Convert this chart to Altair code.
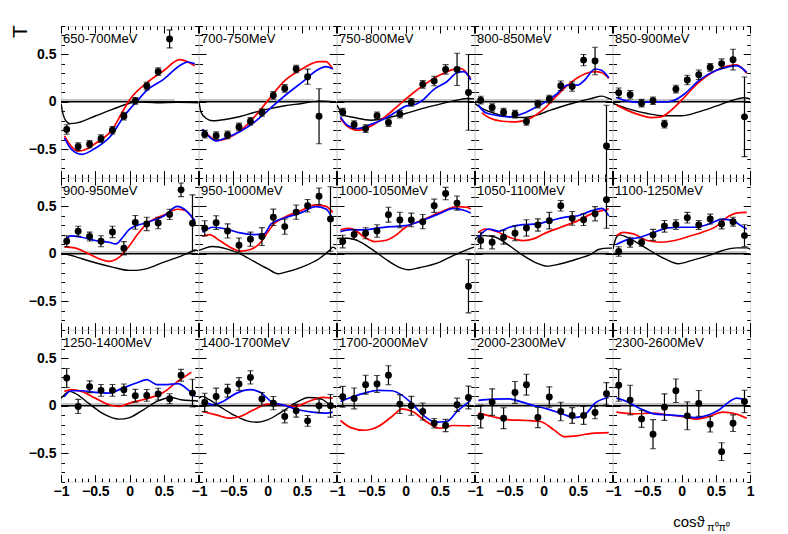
import altair as alt
import pandas as pd

# ---------------- data ----------------
XC = [-0.9167, -0.75, -0.5833, -0.4167, -0.25, -0.0833, 0.0833, 0.25, 0.4167, 0.5833, 0.75, 0.9167]

labels = ["650-700MeV", "700-750MeV", "750-800MeV", "800-850MeV", "850-900MeV",
          "900-950MeV", "950-1000MeV", "1000-1050MeV", "1050-1100MeV", "1100-1250MeV",
          "1250-1400MeV", "1400-1700MeV", "1700-2000MeV", "2000-2300MeV", "2300-2600MeV"]

T_vals = [
    [-0.293, -0.473, -0.448, -0.389, -0.30, -0.152, 0.01, 0.166, 0.318, 0.664],
    [-0.342, -0.357, -0.35, -0.265, -0.205, -0.113, 0.067, 0.141, 0.346, 0.265, -0.152],
    [-0.109, -0.24, -0.283, -0.148, -0.219, -0.131, -0.007, 0.184, 0.219, 0.342, 0.342, 0.099],
    [0.018, -0.06, -0.109, -0.13, -0.208, -0.024, 0.029, 0.169, 0.162, 0.44, 0.43, -0.466],
    [0.095, 0.074, -0.014, 0.011, -0.236, 0.134, 0.23, 0.286, 0.364, 0.403, 0.445, -0.159],
    [0.133, 0.238, 0.182, 0.133, 0.231, 0.059, 0.332, 0.315, 0.325, 0.416, 0.675, 0.322],
    [0.269, 0.329, 0.241, 0.091, 0.154, 0.182, 0.385, 0.287, 0.44, 0.507, 0.608, 0.367],
    [0.129, 0.203, 0.217, 0.241, 0.413, 0.357, 0.357, 0.339, 0.507, 0.636, 0.535, -0.343],
    [0.14, 0.122, 0.175, 0.217, 0.273, 0.304, 0.35, 0.507, 0.374, 0.36, 0.423, 0.57],
    [0.024, 0.122, 0.119, 0.2, 0.29, 0.308, 0.381, 0.304, 0.367, 0.315, 0.339, 0.192],
    [0.293, -0.007, 0.201, 0.163, 0.163, 0.17, 0.106, 0.11, 0.124, 0.074, 0.322, 0.134],
    [0.035, 0.099, 0.159, 0.23, 0.3, 0.071, 0.028, -0.113, -0.053, -0.159, 0.0, 0.0],
    [0.095, 0.078, 0.223, 0.23, 0.322, 0.018, 0.0, -0.06, -0.184, -0.208, 0.011, 0.088],
    [-0.113, 0.039, -0.131, 0.141, 0.223, -0.124, 0.092, -0.06, -0.102, -0.102, -0.071, 0.127],
    [0.216, 0.06, -0.138, -0.3, -0.014, 0.159, -0.106, 0.025, -0.194, -0.484, -0.184, 0.046],
]

T_errs = [
    [0.05, 0.04, 0.04, 0.04, 0.04, 0.04, 0.035, 0.04, 0.04, 0.095],
    [0.04, 0.04, 0.04, 0.04, 0.04, 0.04, 0.04, 0.04, 0.04, 0.08, 0.29],
    [0.04, 0.04, 0.04, 0.04, 0.04, 0.04, 0.04, 0.04, 0.05, 0.05, 0.17, 0.4],
    [0.04, 0.04, 0.04, 0.04, 0.04, 0.04, 0.04, 0.05, 0.05, 0.06, 0.145, 0.43],
    [0.05, 0.045, 0.04, 0.04, 0.04, 0.04, 0.05, 0.05, 0.04, 0.05, 0.11, 0.42],
    [0.058, 0.052, 0.047, 0.058, 0.06, 0.07, 0.073, 0.07, 0.06, 0.054, 0.072, 0.3],
    [0.08, 0.073, 0.075, 0.075, 0.075, 0.094, 0.087, 0.08, 0.075, 0.066, 0.087, 0.34],
    [0.066, 0.052, 0.058, 0.066, 0.079, 0.082, 0.072, 0.075, 0.07, 0.065, 0.075, 0.28],
    [0.087, 0.07, 0.073, 0.079, 0.086, 0.065, 0.087, 0.056, 0.072, 0.061, 0.075, 0.3],
    [0.05, 0.052, 0.04, 0.058, 0.061, 0.052, 0.056, 0.047, 0.052, 0.052, 0.047, 0.115],
    [0.1, 0.075, 0.062, 0.062, 0.062, 0.06, 0.067, 0.062, 0.062, 0.053, 0.062, 0.147],
    [0.097, 0.088, 0.067, 0.067, 0.07, 0.07, 0.07, 0.067, 0.067, 0.057, 0.07, 0.12],
    [0.11, 0.11, 0.1, 0.09, 0.1, 0.1, 0.1, 0.09, 0.05, 0.065, 0.07, 0.12],
    [0.12, 0.14, 0.11, 0.115, 0.11, 0.106, 0.108, 0.097, 0.083, 0.094, 0.065, 0.118],
    [0.168, 0.157, 0.09, 0.154, 0.14, 0.124, 0.147, 0.136, 0.083, 0.094, 0.088, 0.118],
]

red_x = [
    [-0.95, -0.85, -0.75, -0.6, -0.5, -0.25, -0.1, 0.0, 0.25, 0.5, 0.73, 0.85, 0.95],
    [-0.95, -0.85, -0.75, -0.6, -0.4, -0.2, 0.0, 0.25, 0.5, 0.75, 0.85, 0.95],
    [-0.95, -0.85, -0.7, -0.5, -0.3, -0.1, 0.1, 0.3, 0.5, 0.7, 0.8, 0.95],
    [-0.9, -0.8, -0.6, -0.4, -0.2, 0.0, 0.2, 0.4, 0.6, 0.75, 0.85, 0.95],
    [-0.95, -0.8, -0.6, -0.45, -0.3, -0.15, 0.0, 0.25, 0.5, 0.7, 0.8, 0.95],
    [-0.95, -0.8, -0.6, -0.4, -0.3, -0.15, 0.0, 0.1, 0.25, 0.5, 0.7, 0.8, 0.95],
    [-0.95, -0.85, -0.7, -0.5, -0.4, -0.25, -0.1, 0.0, 0.1, 0.25, 0.5, 0.7, 0.85, 0.95],
    [-0.95, -0.85, -0.75, -0.6, -0.45, -0.3, -0.15, 0.0, 0.25, 0.5, 0.75, 0.9, 0.95],
    [-0.95, -0.85, -0.7, -0.5, -0.3, -0.15, 0.0, 0.25, 0.5, 0.75, 0.95],
    [-0.95, -0.85, -0.7, -0.5, -0.3, -0.1, 0.1, 0.3, 0.5, 0.7, 0.8, 0.95],
    [-0.95, -0.85, -0.7, -0.5, -0.3, -0.15, 0.0, 0.25, 0.5, 0.7, 0.85, 0.9],
    [-0.95, -0.75, -0.55, -0.4, -0.2, 0.0, 0.2, 0.4, 0.6, 0.8, 0.95],
    [-0.95, -0.8, -0.6, -0.4, -0.2, -0.05, 0.1, 0.3, 0.5, 0.7, 0.95],
    [-0.95, -0.75, -0.5, -0.25, -0.05, 0.15, 0.3, 0.5, 0.7, 0.95],
    [-0.95, -0.7, -0.45, -0.2, 0.0, 0.2, 0.4, 0.6, 0.8, 0.95],
]
red_y = [
    [-0.36, -0.47, -0.52, -0.49, -0.44, -0.29, -0.1, 0.02, 0.2, 0.33, 0.445, 0.42, 0.38],
    [-0.29, -0.36, -0.41, -0.39, -0.307, -0.166, 0.01, 0.223, 0.346, 0.424, 0.424, 0.346],
    [-0.177, -0.258, -0.3, -0.254, -0.159, -0.035, 0.088, 0.194, 0.283, 0.343, 0.353, 0.247],
    [-0.117, -0.166, -0.205, -0.212, -0.177, -0.078, 0.07, 0.205, 0.293, 0.318, 0.307, 0.247],
    [-0.035, -0.088, -0.141, -0.166, -0.159, -0.088, 0.018, 0.205, 0.33, 0.382, 0.389, 0.3],
    [0.073, 0.063, 0.0, -0.063, -0.08, -0.035, 0.087, 0.19, 0.315, 0.41, 0.47, 0.46, 0.35],
    [0.185, 0.203, 0.14, 0.052, 0.028, 0.045, 0.122, 0.227, 0.32, 0.385, 0.46, 0.517, 0.5, 0.437],
    [0.252, 0.269, 0.255, 0.175, 0.129, 0.14, 0.192, 0.28, 0.357, 0.437, 0.497, 0.49, 0.472],
    [0.227, 0.262, 0.238, 0.175, 0.14, 0.157, 0.21, 0.28, 0.35, 0.437, 0.472],
    [0.192, 0.227, 0.21, 0.14, 0.122, 0.14, 0.182, 0.227, 0.287, 0.402, 0.43, 0.437],
    [0.152, 0.17, 0.152, 0.081, 0.011, -0.007, 0.028, 0.074, 0.145, 0.258, 0.329, 0.353],
    [-0.06, -0.095, -0.131, -0.113, -0.042, 0.018, 0.011, -0.007, 0.046, 0.088, 0.081],
    [-0.155, -0.23, -0.258, -0.219, -0.113, -0.032, -0.06, -0.166, -0.237, -0.208, -0.212],
    [-0.078, -0.113, -0.148, -0.155, -0.166, -0.254, -0.325, -0.314, -0.29, -0.283],
    [-0.067, -0.085, -0.078, -0.095, -0.113, -0.141, -0.113, -0.067, -0.088, -0.131],
]

blue_x = [
    [-0.95, -0.85, -0.7, -0.5, -0.25, -0.1, 0.0, 0.1, 0.25, 0.5, 0.75, 0.85, 0.95],
    [-0.95, -0.85, -0.75, -0.6, -0.4, -0.2, 0.0, 0.25, 0.5, 0.75, 0.85, 0.95],
    [-0.95, -0.85, -0.7, -0.5, -0.3, -0.1, 0.0, 0.15, 0.25, 0.4, 0.6, 0.75, 0.85, 0.95],
    [-0.95, -0.85, -0.7, -0.5, -0.3, -0.1, 0.05, 0.2, 0.35, 0.5, 0.6, 0.75, 0.85, 0.95],
    [-0.95, -0.8, -0.6, -0.4, -0.2, -0.1, 0.05, 0.25, 0.5, 0.65, 0.8, 0.95],
    [-0.95, -0.85, -0.7, -0.5, -0.3, -0.2, -0.1, 0.0, 0.25, 0.5, 0.7, 0.8, 0.95],
    [-0.95, -0.8, -0.6, -0.4, -0.2, -0.05, 0.05, 0.25, 0.5, 0.7, 0.85, 0.95],
    [-0.95, -0.8, -0.6, -0.4, -0.2, 0.0, 0.1, 0.3, 0.5, 0.7, 0.85, 0.95],
    [-0.95, -0.8, -0.65, -0.5, -0.3, -0.1, 0.1, 0.3, 0.5, 0.7, 0.85, 0.95],
    [-0.95, -0.8, -0.6, -0.4, -0.2, 0.0, 0.2, 0.4, 0.6, 0.75, 0.9, 0.95],
    [-0.95, -0.85, -0.7, -0.5, -0.3, -0.1, 0.1, 0.25, 0.4, 0.55, 0.7, 0.85, 0.95],
    [-0.95, -0.8, -0.65, -0.45, -0.25, -0.1, 0.05, 0.25, 0.45, 0.65, 0.85, 0.95],
    [-0.95, -0.8, -0.6, -0.4, -0.2, -0.05, 0.1, 0.25, 0.45, 0.6, 0.75, 0.95],
    [-0.95, -0.75, -0.5, -0.35, -0.15, 0.05, 0.25, 0.45, 0.6, 0.75, 0.95],
    [-0.95, -0.8, -0.6, -0.4, -0.2, 0.0, 0.2, 0.4, 0.55, 0.7, 0.8, 0.95],
]
blue_y = [
    [-0.38, -0.5, -0.555, -0.49, -0.34, -0.17, -0.08, 0.0, 0.12, 0.24, 0.39, 0.42, 0.40],
    [-0.29, -0.371, -0.413, -0.378, -0.314, -0.219, -0.095, 0.064, 0.205, 0.346, 0.371, 0.346],
    [-0.159, -0.247, -0.283, -0.237, -0.177, -0.088, -0.046, -0.025, 0.018, 0.124, 0.212, 0.307, 0.318, 0.23],
    [-0.035, -0.113, -0.141, -0.159, -0.124, -0.053, 0.007, 0.088, 0.177, 0.177, 0.23, 0.346, 0.33, 0.254],
    [0.046, 0.01, -0.007, 0.0, 0.0, 0.018, 0.088, 0.223, 0.33, 0.364, 0.382, 0.311],
    [0.14, 0.19, 0.175, 0.14, 0.122, 0.105, 0.175, 0.26, 0.33, 0.40, 0.5, 0.47, 0.35],
    [0.227, 0.28, 0.262, 0.22, 0.203, 0.21, 0.315, 0.378, 0.437, 0.497, 0.472, 0.367],
    [0.234, 0.255, 0.252, 0.273, 0.287, 0.297, 0.315, 0.367, 0.427, 0.48, 0.46, 0.43],
    [0.175, 0.262, 0.238, 0.28, 0.308, 0.315, 0.35, 0.385, 0.402, 0.455, 0.48, 0.4],
    [0.098, 0.147, 0.175, 0.227, 0.273, 0.28, 0.28, 0.315, 0.367, 0.35, 0.28, 0.262],
    [0.099, 0.159, 0.159, 0.141, 0.134, 0.187, 0.24, 0.276, 0.223, 0.223, 0.233, 0.17, 0.099],
    [0.064, 0.011, 0.046, 0.134, 0.17, 0.141, 0.046, 0.004, -0.042, -0.067, -0.078, -0.067],
    [0.046, 0.088, 0.134, 0.163, 0.159, 0.11, 0.018, -0.095, -0.173, -0.166, -0.06, 0.057],
    [0.057, 0.071, 0.074, 0.046, 0.004, -0.032, -0.078, -0.124, -0.095, 0.028, 0.088],
    [0.081, 0.046, -0.032, -0.085, -0.095, -0.106, -0.124, -0.095, -0.042, 0.046, 0.081, 0.057],
]

black_x = [
    [-1, -0.97, -0.93, -0.87, -0.75, -0.5, -0.25, 0.0, 0.1, 0.4, 0.7, 1],
    [-1, -0.97, -0.9, -0.8, -0.6, -0.4, -0.2, 0.0, 0.25, 0.5, 0.75, 1],
    [-1, -0.9, -0.75, -0.5, -0.25, 0.0, 0.25, 0.5, 0.75, 0.9, 1],
    [-1, -0.9, -0.7, -0.5, -0.3, -0.1, 0.1, 0.3, 0.5, 0.7, 0.85, 0.95, 1],
    [-1, -0.8, -0.5, -0.25, 0.0, 0.25, 0.5, 0.75, 0.9, 1],
    [-1, -0.9, -0.75, -0.5, -0.25, 0.0, 0.1, 0.25, 0.5, 0.75, 0.9, 0.95, 1],
    [-1, -0.9, -0.8, -0.6, -0.4, -0.2, 0.0, 0.15, 0.25, 0.5, 0.75, 0.9, 0.95, 1],
    [-1, -0.95, -0.85, -0.7, -0.5, -0.3, -0.1, 0.05, 0.2, 0.5, 0.7, 0.9, 1],
    [-1, -0.95, -0.85, -0.7, -0.5, -0.3, -0.1, 0.05, 0.25, 0.5, 0.7, 0.8, 0.95, 1],
    [-1, -0.95, -0.9, -0.75, -0.5, -0.25, -0.05, 0.15, 0.4, 0.6, 0.8, 0.95, 1],
    [-1, -0.95, -0.88, -0.8, -0.6, -0.4, -0.15, 0.0, 0.2, 0.4, 0.6, 0.75, 0.95, 1],
    [-1, -0.95, -0.85, -0.7, -0.5, -0.3, -0.15, 0.0, 0.2, 0.4, 0.6, 0.75, 0.95, 1],
    [], [], [],
]
black_y = [
    [-0.02, -0.13, -0.2, -0.23, -0.22, -0.15, -0.08, -0.015, 0.0, -0.01, -0.005, -0.01],
    [0.0, -0.11, -0.173, -0.2, -0.184, -0.155, -0.113, -0.078, -0.042, -0.018, 0.01, 0.0],
    [-0.035, -0.141, -0.166, -0.194, -0.166, -0.124, -0.07, -0.025, 0.018, 0.035, 0.03],
    [-0.018, -0.07, -0.124, -0.159, -0.166, -0.141, -0.088, -0.042, 0.0, 0.035, 0.06, 0.035, 0.02],
    [-0.018, -0.07, -0.124, -0.148, -0.148, -0.106, -0.046, 0.018, 0.042, 0.03],
    [0.0, -0.007, -0.04, -0.094, -0.14, -0.175, -0.175, -0.157, -0.087, -0.024, 0.024, 0.04, 0.03],
    [0.035, 0.063, 0.077, 0.052, 0.0, -0.08, -0.157, -0.21, -0.196, -0.14, -0.052, 0.035, 0.07, 0.05],
    [0.16, 0.164, 0.164, 0.14, 0.052, -0.052, -0.14, -0.168, -0.147, -0.087, -0.017, 0.045, 0.07],
    [0.15, 0.182, 0.192, 0.175, 0.087, -0.017, -0.098, -0.13, -0.105, -0.052, 0.0, 0.045, 0.06, 0.06],
    [0.05, 0.175, 0.2, 0.157, 0.052, -0.052, -0.105, -0.07, -0.017, 0.035, 0.063, 0.063, 0.05],
    [0.08, 0.117, 0.152, 0.134, 0.028, -0.078, -0.141, -0.124, -0.042, 0.046, 0.088, 0.064, 0.053, 0.05],
    [0.08, 0.099, 0.064, -0.007, -0.095, -0.159, -0.173, -0.148, -0.067, 0.028, 0.088, 0.081, -0.007, -0.02],
    [], [], [],
]

# systematic band along zero: x-extent and height
sys_x_end = [0.66, 0.67, 0.95, 0.95, 0.95, 0.93, 0.93, 0.95, 0.95, 0.95, 0.95, 0.95, 0.95, 0.95, 0.95]
sys_height = 0.03

# axis ticks
X_MAJOR = [-1, -0.5, 0, 0.5, 1]
X_MINOR = [-1, -0.9, -0.8, -0.7, -0.6, -0.5, -0.4, -0.3, -0.2, -0.1, 0,
           0.1, 0.2, 0.3, 0.4, 0.5, 0.6, 0.7, 0.8, 0.9, 1]
Y_MAJOR = [-0.5, 0, 0.5]
Y_MINOR = [-0.8, -0.7, -0.6, -0.5, -0.4, -0.3, -0.2, -0.1, 0,
           0.1, 0.2, 0.3, 0.4, 0.5, 0.6, 0.7, 0.8]

# ---------------- layout / style ----------------
W, H = 137.2, 151.6
MAJ, MIN = 7, 3.5
FONT = "Liberation Sans"
XS = alt.Scale(domain=[-1, 1], nice=False, zero=False)
YS = alt.Scale(domain=[-0.8, 0.8], nice=False, zero=False)


def axis(orient, values, size, show_labels=False, **kw):
    base = dict(orient=orient, values=values, tickSize=size, offset=-size,
                domain=False, grid=False, ticks=True, tickColor="black",
                tickWidth=1, labels=show_labels, title=None)
    if show_labels:
        base.update(labelFont=FONT, labelFontSize=14, labelFontWeight="bold",
                    labelColor="black", labelOverlap=False, labelFlush=False,
                    format="~g", labelPadding=5)
    base.update(kw)
    return alt.Axis(**base)


def panel(i):
    col, row = i % 5, i // 5
    n = len(T_vals[i])
    df = pd.DataFrame({
        "x": XC[:n],
        "T": T_vals[i],
        "lo": [v - e for v, e in zip(T_vals[i], T_errs[i])],
        "hi": [v + e for v, e in zip(T_vals[i], T_errs[i])],
    })

    # bottom axes
    bkw = {}
    if row == 2:
        bkw["labelPadding"] = 3
    if row == 2 and col < 4:
        bkw["labelExpr"] = "datum.value == 1 ? '' : datum.label"
    if i == 14:
        bkw.update(title="cos\u03d1", titleFont=FONT, titleFontSize=15,
                   titleFontWeight="normal", titleColor="black",
                   titleAlign="right", titleBaseline="alphabetic", titleAngle=0,
                   titleX=91.3, titleY=44.5 + MAJ)
    ax_bottom = axis("bottom", X_MAJOR, MAJ, show_labels=(row == 2), **bkw)
    mkw = {}
    if i == 14:
        mkw.update(title="\u03c0\u2070\u03c0\u2070", titleFont=FONT, titleFontSize=11,
                   titleFontWeight="normal", titleColor="black",
                   titleAlign="left", titleBaseline="alphabetic", titleAngle=0,
                   titleX=93.5, titleY=48.5 + MIN)
    ax_bottom_min = axis("bottom", X_MINOR, MIN, **mkw)

    lkw = {}
    if i == 0:
        lkw.update(title="T", titleFont=FONT, titleFontSize=21,
                   titleFontWeight="normal", titleColor="black",
                   titleAlign="center", titleBaseline="alphabetic", titleAngle=270,
                   titleX=-35.0 - MAJ, titleY=5)
    ax_left = axis("left", Y_MAJOR, MAJ, show_labels=(col == 0), **lkw)
    ax_left_min = axis("left", Y_MINOR, MIN)
    ax_top = axis("top", X_MAJOR, MAJ)
    ax_top_min = axis("top", X_MINOR, MIN)
    ax_right = axis("right", Y_MAJOR, MAJ)
    ax_right_min = axis("right", Y_MINOR, MIN)

    layers = []

    # systematic band and zero line
    band = pd.DataFrame({"x": [-1, sys_x_end[i]], "top": [sys_height, sys_height], "base": [0, 0]})
    layers.append(alt.Chart(band).mark_area(color="#c4c4c4", opacity=1).encode(
        x=alt.X("x:Q", scale=XS, axis=None),
        y=alt.Y("top:Q", scale=YS, axis=None), y2="base:Q"))
    zero = pd.DataFrame({"x": [-1, 1], "T": [0, 0]})
    layers.append(alt.Chart(zero).mark_line(color="black", strokeWidth=1.6).encode(
        x=alt.X("x:Q", scale=XS, axis=None), y=alt.Y("T:Q", scale=YS, axis=None)))

    # model curves
    if black_x[i]:
        bdf = pd.DataFrame({"x": black_x[i], "T": black_y[i]})
        layers.append(alt.Chart(bdf).mark_line(color="black", strokeWidth=1.4,
                                               interpolate="monotone", clip=True).encode(
            x=alt.X("x:Q", scale=XS, axis=None), y=alt.Y("T:Q", scale=YS, axis=None)))
    rdf = pd.DataFrame({"x": red_x[i], "T": red_y[i]})
    layers.append(alt.Chart(rdf).mark_line(color="#ff0000", strokeWidth=1.7,
                                           interpolate="monotone", clip=True).encode(
        x=alt.X("x:Q", scale=XS, axis=ax_top), y=alt.Y("T:Q", scale=YS, axis=ax_right)))
    bldf = pd.DataFrame({"x": blue_x[i], "T": blue_y[i]})
    layers.append(alt.Chart(bldf).mark_line(color="#0000ff", strokeWidth=1.7,
                                            interpolate="monotone", clip=True).encode(
        x=alt.X("x:Q", scale=XS, axis=ax_top_min), y=alt.Y("T:Q", scale=YS, axis=ax_right_min)))

    # data points with error bars
    layers.append(alt.Chart(df).mark_rule(color="black", strokeWidth=1.2, clip=True).encode(
        x=alt.X("x:Q", scale=XS, axis=ax_bottom_min),
        y=alt.Y("lo:Q", scale=YS, axis=ax_left_min), y2="hi:Q"))
    for f in ("lo", "hi"):
        layers.append(alt.Chart(df).mark_tick(color="black", orient="horizontal", size=6,
                                              thickness=1.1, clip=True).encode(
            x=alt.X("x:Q", scale=XS, axis=None), y=alt.Y(f + ":Q", scale=YS, axis=None)))
    layers.append(alt.Chart(df).mark_circle(color="black", size=48, opacity=1).encode(
        x=alt.X("x:Q", scale=XS, axis=ax_bottom), y=alt.Y("T:Q", scale=YS, axis=ax_left)))

    # bin label
    ldf = pd.DataFrame({"t": [labels[i]]})
    layers.append(alt.Chart(ldf).mark_text(align="left", baseline="alphabetic", font=FONT,
                                           fontSize=13, color="black").encode(
        x=alt.value(2), y=alt.value(17.3), text="t:N"))

    return alt.layer(*layers).resolve_axis(x="independent", y="independent").properties(
        width=W, height=H)


chart = alt.concat(*[panel(i) for i in range(15)], columns=5, spacing=0, bounds="flush").properties(
    padding={"left": 0, "top": 16, "right": 5, "bottom": 0}
).configure_view(stroke="black", strokeWidth=1.6).configure(background="white")

chart.save("out.html", embed_options={"renderer": "svg", "actions": False})
